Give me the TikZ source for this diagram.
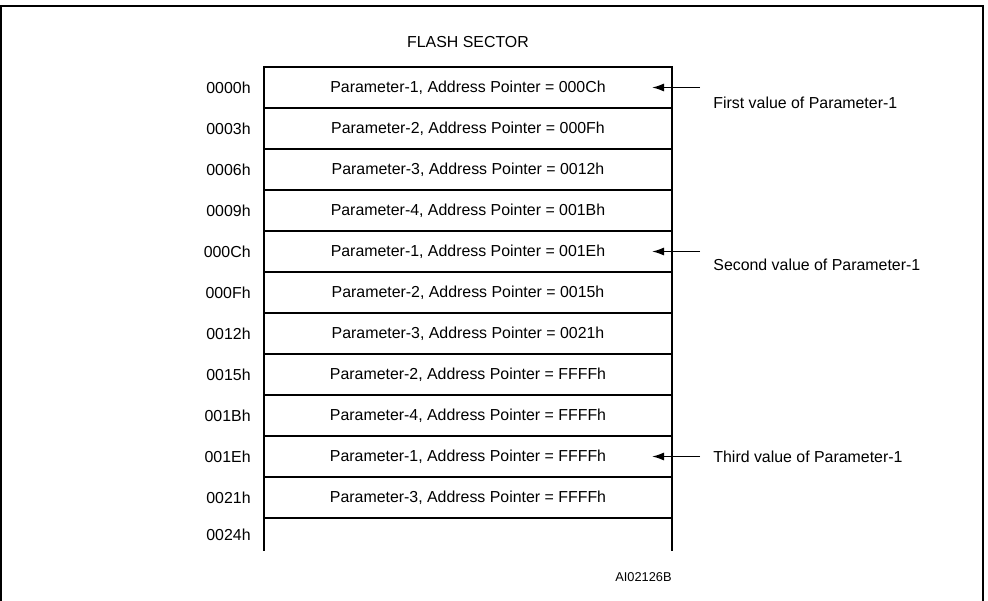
\documentclass[tikz,border=0pt]{standalone}
\usepackage{fontspec}
\setmainfont{Liberation Sans}
\usetikzlibrary{positioning,arrows.meta}

\begin{document}
\begin{tikzpicture}[
    x=0.5pt, y=-0.5pt,
    font=\fontsize{7.95}{9.5}\selectfont,
    node distance=0pt,
    cell/.style={draw, line width=0.8pt, minimum width=204pt, minimum height=20.5pt,
                 inner sep=0pt, outer sep=0pt, text centered},
    addr/.style={inner sep=0pt, anchor=east},
    note/.style={inner sep=0pt, anchor=west},
    ptr/.style={-{Latex[length=6pt, width=4pt]}, line width=0.75pt}
]
\useasboundingbox (0,0) rectangle (988,600);

% outer frame (open at the bottom)
\draw[line width=1pt] (1,602) -- (1,6) -- (983,6) -- (983,602);

%--------
% FLASH SECTOR rows
%--------
\node (title) at (468,42) {FLASH SECTOR};

\node[cell] (p1) at (468,87.5) {Parameter-1, Address Pointer = 000Ch};
\node[cell, below=of p1]  (p2)  {Parameter-2, Address Pointer = 000Fh};
\node[cell, below=of p2]  (p3)  {Parameter-3, Address Pointer = 0012h};
\node[cell, below=of p3]  (p4)  {Parameter-4, Address Pointer = 001Bh};
\node[cell, below=of p4]  (p5)  {Parameter-1, Address Pointer = 001Eh};
\node[cell, below=of p5]  (p6)  {Parameter-2, Address Pointer = 0015h};
\node[cell, below=of p6]  (p7)  {Parameter-3, Address Pointer = 0021h};
\node[cell, below=of p7]  (p8)  {Parameter-2, Address Pointer = FFFFh};
\node[cell, below=of p8]  (p9)  {Parameter-4, Address Pointer = FFFFh};
\node[cell, below=of p9]  (p10) {Parameter-1, Address Pointer = FFFFh};
\node[cell, below=of p10] (p11) {Parameter-3, Address Pointer = FFFFh};

% last, open row
\node[cell, draw=none, minimum height=16.5pt, below=of p11] (p12) {};
\draw[line width=0.8pt] (p12.north west) -- (p12.south west);
\draw[line width=0.8pt] (p12.north east) -- (p12.south east);

%--------
% addresses
%--------
\node[addr, left=6.5pt of p1.west]  (a1)  {0000h};
\node[addr, left=6.5pt of p2.west]  (a2)  {0003h};
\node[addr, left=6.5pt of p3.west]  (a3)  {0006h};
\node[addr, left=6.5pt of p4.west]  (a4)  {0009h};
\node[addr, left=6.5pt of p5.west]  (a5)  {000Ch};
\node[addr, left=6.5pt of p6.west]  (a6)  {000Fh};
\node[addr, left=6.5pt of p7.west]  (a7)  {0012h};
\node[addr, left=6.5pt of p8.west]  (a8)  {0015h};
\node[addr, left=6.5pt of p9.west]  (a9)  {001Bh};
\node[addr, left=6.5pt of p10.west] (a10) {001Eh};
\node[addr, left=6.5pt of p11.west] (a11) {0021h};
\node[addr, left=6.5pt of p12.west] (a12) {0024h};

%--------
% values of Parameter-1
%--------
\coordinate (t1) at ([xshift=-10pt]p1.east);
\coordinate (s1) at ([xshift=14pt]p1.east);
\coordinate (t2) at ([xshift=-10pt]p5.east);
\coordinate (s2) at ([xshift=14pt]p5.east);
\coordinate (t3) at ([xshift=-10pt]p10.east);
\coordinate (s3) at ([xshift=14pt]p10.east);

\draw[ptr] (s1) -- (t1);
\draw[ptr] (s2) -- (t2);
\draw[ptr] (s3) -- (t3);

\node[note] (v1) at ([xshift=20.5pt, yshift=-7.5pt]p1.east)  {First value of Parameter-1};
\node[note] (v2) at ([xshift=20.5pt, yshift=-6.5pt]p5.east)  {Second value of Parameter-1};
\node[note] (v3) at ([xshift=20.5pt]p10.east)                {Third value of Parameter-1};

% figure code
\node[anchor=east, inner sep=0pt, font=\fontsize{6.4}{7.7}\selectfont] (code)
    at ([yshift=-13pt]p12.south east) {AI02126B};

\end{tikzpicture}
\end{document}
